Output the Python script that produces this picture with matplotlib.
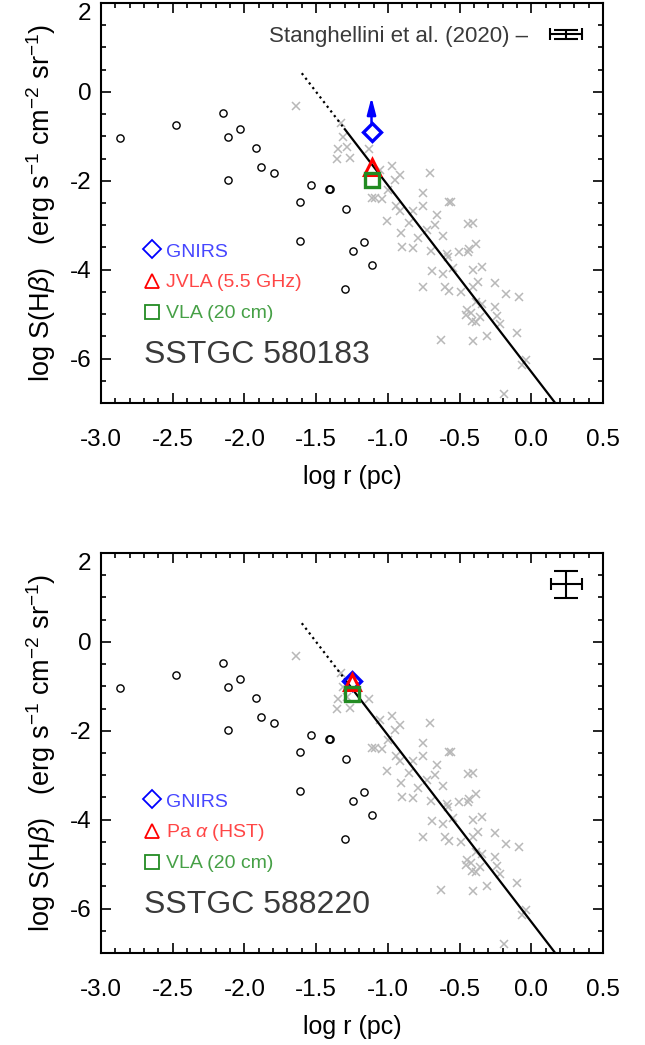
import matplotlib
matplotlib.use("Agg")
import matplotlib.pyplot as plt
from matplotlib.ticker import MultipleLocator

plt.rcParams['font.family'] = ['Liberation Sans', 'DejaVu Sans']
plt.rcParams['mathtext.fontset'] = 'custom'
plt.rcParams['mathtext.rm'] = 'Liberation Sans'
plt.rcParams['mathtext.it'] = 'Liberation Sans:italic'
plt.rcParams['axes.unicode_minus'] = False

# ---------------- data ----------------
circ_x = [-2.868, -2.477, -2.150, -2.117, -2.029, -2.113, -1.920, -1.885, -1.792,
          -1.537, -1.411, -1.406, -1.610, -1.293, -1.611, -1.244, -1.165, -1.111, -1.300]
circ_y = [-1.04, -0.745, -0.468, -1.015, -0.842, -1.98, -1.27, -1.69, -1.83,
          -2.10, -2.18, -2.195, -2.47, -2.63, -3.35, -3.59, -3.38, -3.89, -4.44]

cross_x = [-1.641, -1.330, -1.312, -1.288, -1.346, -1.357, -1.267, -1.130, -1.056, -0.970,
           -0.951, -0.916, -0.703, -1.111, -1.090, -1.040, -0.998, -0.940, -0.916, -0.828,
           -0.756, -0.758, -1.009, -0.851, -0.905, -0.789, -0.724, -0.672, -0.656, -0.619,
           -0.900, -0.828, -0.696, -0.591, -0.580, -0.505, -0.443, -0.434, -0.382, -0.573,
           -0.561, -0.443, -0.406, -0.545, -0.689, -0.615, -0.754, -0.603, -0.573, -0.491,
           -0.406, -0.343, -0.371, -0.406, -0.254, -0.178, -0.087, -0.382, -0.347, -0.447,
           -0.417, -0.452, -0.359, -0.410, -0.387, -0.254, -0.242, -0.219, -0.312, -0.406,
           -0.631, -0.097, -0.038, -0.068, -0.192]
cross_y = [-0.317, -0.707, -1.008, -1.233, -1.292, -1.51, -1.48, -1.285, -1.757, -1.66,
           -1.98, -1.87, -1.82, -2.39, -2.39, -2.42, -2.21, -2.56, -2.67, -2.68,
           -2.28, -2.56, -2.90, -2.94, -3.18, -3.29, -3.11, -2.99, -2.77, -3.24,
           -3.50, -3.52, -3.57, -3.65, -3.71, -3.60, -3.60, -3.54, -3.43, -2.48,
           -2.47, -2.98, -2.94, -3.97, -4.04, -4.10, -4.38, -4.40, -4.48, -4.51,
           -4.01, -3.93, -4.27, -4.40, -4.29, -4.55, -4.62, -4.72, -4.77, -4.91,
           -4.98, -5.02, -5.06, -5.15, -5.17, -4.83, -5.04, -5.22, -5.49, -5.60,
           -5.58, -5.42, -6.03, -6.14, -6.80]

fit_dotted_x = [-1.60, -1.30]
fit_dotted_y = [0.42, -0.84]
fit_solid_x = [-1.30, 0.167]
fit_solid_y = [-0.84, -7.0]

panel_names = ["SSTGC 580183", "SSTGC 588220"]
legend_labels = [["GNIRS", "JVLA (5.5 GHz)", "VLA (20 cm)"],
                 ["GNIRS", r"Pa $\alpha$ (HST)", "VLA (20 cm)"]]
src_x = [-1.114, -1.249]
gnirs_y = [-0.909, -0.880]
gnirs_limit_top = [-0.12, None]
mid_y = [-1.694, -0.900]
vla_y = [-1.993, -1.165]

err_x = [0.242, 0.245]
err_y = [1.296, 1.296]
err_xerr = [0.11, 0.11]
err_yerr = [0.10, 0.31]

xticks = [-3.0, -2.5, -2.0, -1.5, -1.0, -0.5, 0.0, 0.5]
yticks = [-6, -4, -2, 0, 2]

# ---------------- figure ----------------
W, H = 645, 1045
fig = plt.figure(figsize=(W / 100, H / 100), dpi=100)

ax_left = 101 / W
ax_w = 502 / W
ax_h = 400 / H
tops = [3, 553]

fs_tick = 17.5
TXT = '#3a3a3a'

for i in range(2):
    ax = fig.add_axes([ax_left, 1 - (tops[i] + 400) / H, ax_w, ax_h])
    ax.set_xlim(-3.0, 0.5)
    ax.set_ylim(-7, 2)

    # background samples
    ax.plot(cross_x, cross_y, 'x', color='#b8b8b8', ms=5.5, mew=1.1, zorder=2)
    ax.plot(circ_x, circ_y, 'o', mfc='none', mec='black', ms=5.2, mew=1.0, zorder=3)
    ax.plot(fit_dotted_x, fit_dotted_y, ':', color='black', lw=1.6, zorder=4)
    ax.plot(fit_solid_x, fit_solid_y, '-', color='black', lw=1.6, zorder=4)

    # this object
    ax.plot([src_x[i]], [mid_y[i]], '^', mfc='none', mec='red', ms=11.5, mew=2.2, zorder=6)
    ax.plot([src_x[i]], [vla_y[i]], 's', mfc='none', mec='#228B22', ms=10.5, mew=2.4, zorder=7)
    ax.plot([src_x[i]], [gnirs_y[i]], 'D', mfc='none', mec='blue', ms=9.5, mew=2.4, zorder=5)
    if gnirs_limit_top[i] is not None:
        ax.annotate('', xy=(src_x[i], gnirs_limit_top[i]), xytext=(src_x[i], gnirs_y[i] + 0.2),
                    arrowprops=dict(arrowstyle='-|>,head_length=0.5,head_width=0.13',
                                    color='blue', lw=1.8, mutation_scale=20,
                                    shrinkA=0, shrinkB=0), zorder=5)

    # legend-like annotations
    mk = ['D', '^', 's']
    mcol = ['blue', 'red', '#228B22']
    tcol = ['#4646ff', '#ff4646', '#46a046']
    ym = [0.384, 0.305, 0.227]
    yb = [0.366, 0.289, 0.212]
    msz = [9.0, 10.0, 9.5]
    for k in range(3):
        ax.plot([0.101], [ym[k]], mk[k], transform=ax.transAxes, mfc='none', mec=mcol[k],
                ms=msz[k], mew=1.3, clip_on=False)
        ax.text(0.1295, yb[k], legend_labels[i][k], transform=ax.transAxes, color=tcol[k],
                fontsize=14, ha='left', va='baseline')
    ax.text(0.0863, 0.099, panel_names[i], transform=ax.transAxes, color=TXT,
            fontsize=23, ha='left', va='baseline')

    # typical error bar
    ax.errorbar([err_x[i]], [err_y[i]], xerr=[err_xerr[i]], fmt='none', ecolor='black',
                elinewidth=1.5, capsize=4.5, capthick=1.5)
    ax.errorbar([err_x[i]], [err_y[i]], yerr=[err_yerr[i]], fmt='none', ecolor='black',
                elinewidth=1.5, capsize=8.5, capthick=1.5)
    if i == 0:
        ax.text(0.851, 0.9025, u"Stanghellini et al. (2020) \u2013", transform=ax.transAxes,
                color=TXT, fontsize=16, ha='right', va='baseline')

    # axes styling
    ax.set_xticks(xticks)
    ax.set_xticklabels(["%.1f" % v for v in xticks])
    ax.set_yticks(yticks)
    ax.set_yticklabels(["%d" % v for v in yticks])
    ax.xaxis.set_minor_locator(MultipleLocator(0.1))
    ax.yaxis.set_minor_locator(MultipleLocator(0.5))
    ax.tick_params(which='both', direction='in', top=True, right=True, width=1.2)
    ax.tick_params(which='major', length=7.5)
    ax.tick_params(which='minor', length=3.8)
    ax.tick_params(axis='x', which='major', labelsize=fs_tick, pad=19)
    ax.tick_params(axis='y', which='major', labelsize=fs_tick, pad=7)
    for s in ax.spines.values():
        s.set_linewidth(1.5)
    ax.yaxis.get_major_ticks()[-1].label1.set_va('top')

    ax.set_xlabel('log r (pc)', fontsize=18, labelpad=10)
    ax.text(-0.12, 0.5, r'log S(H$\beta$)   (erg s$^{-1}$ cm$^{-2}$ sr$^{-1}$)',
            transform=ax.transAxes, rotation=90, ha='center', va='center', fontsize=19.5)

fig.savefig('out.png', dpi=100)
